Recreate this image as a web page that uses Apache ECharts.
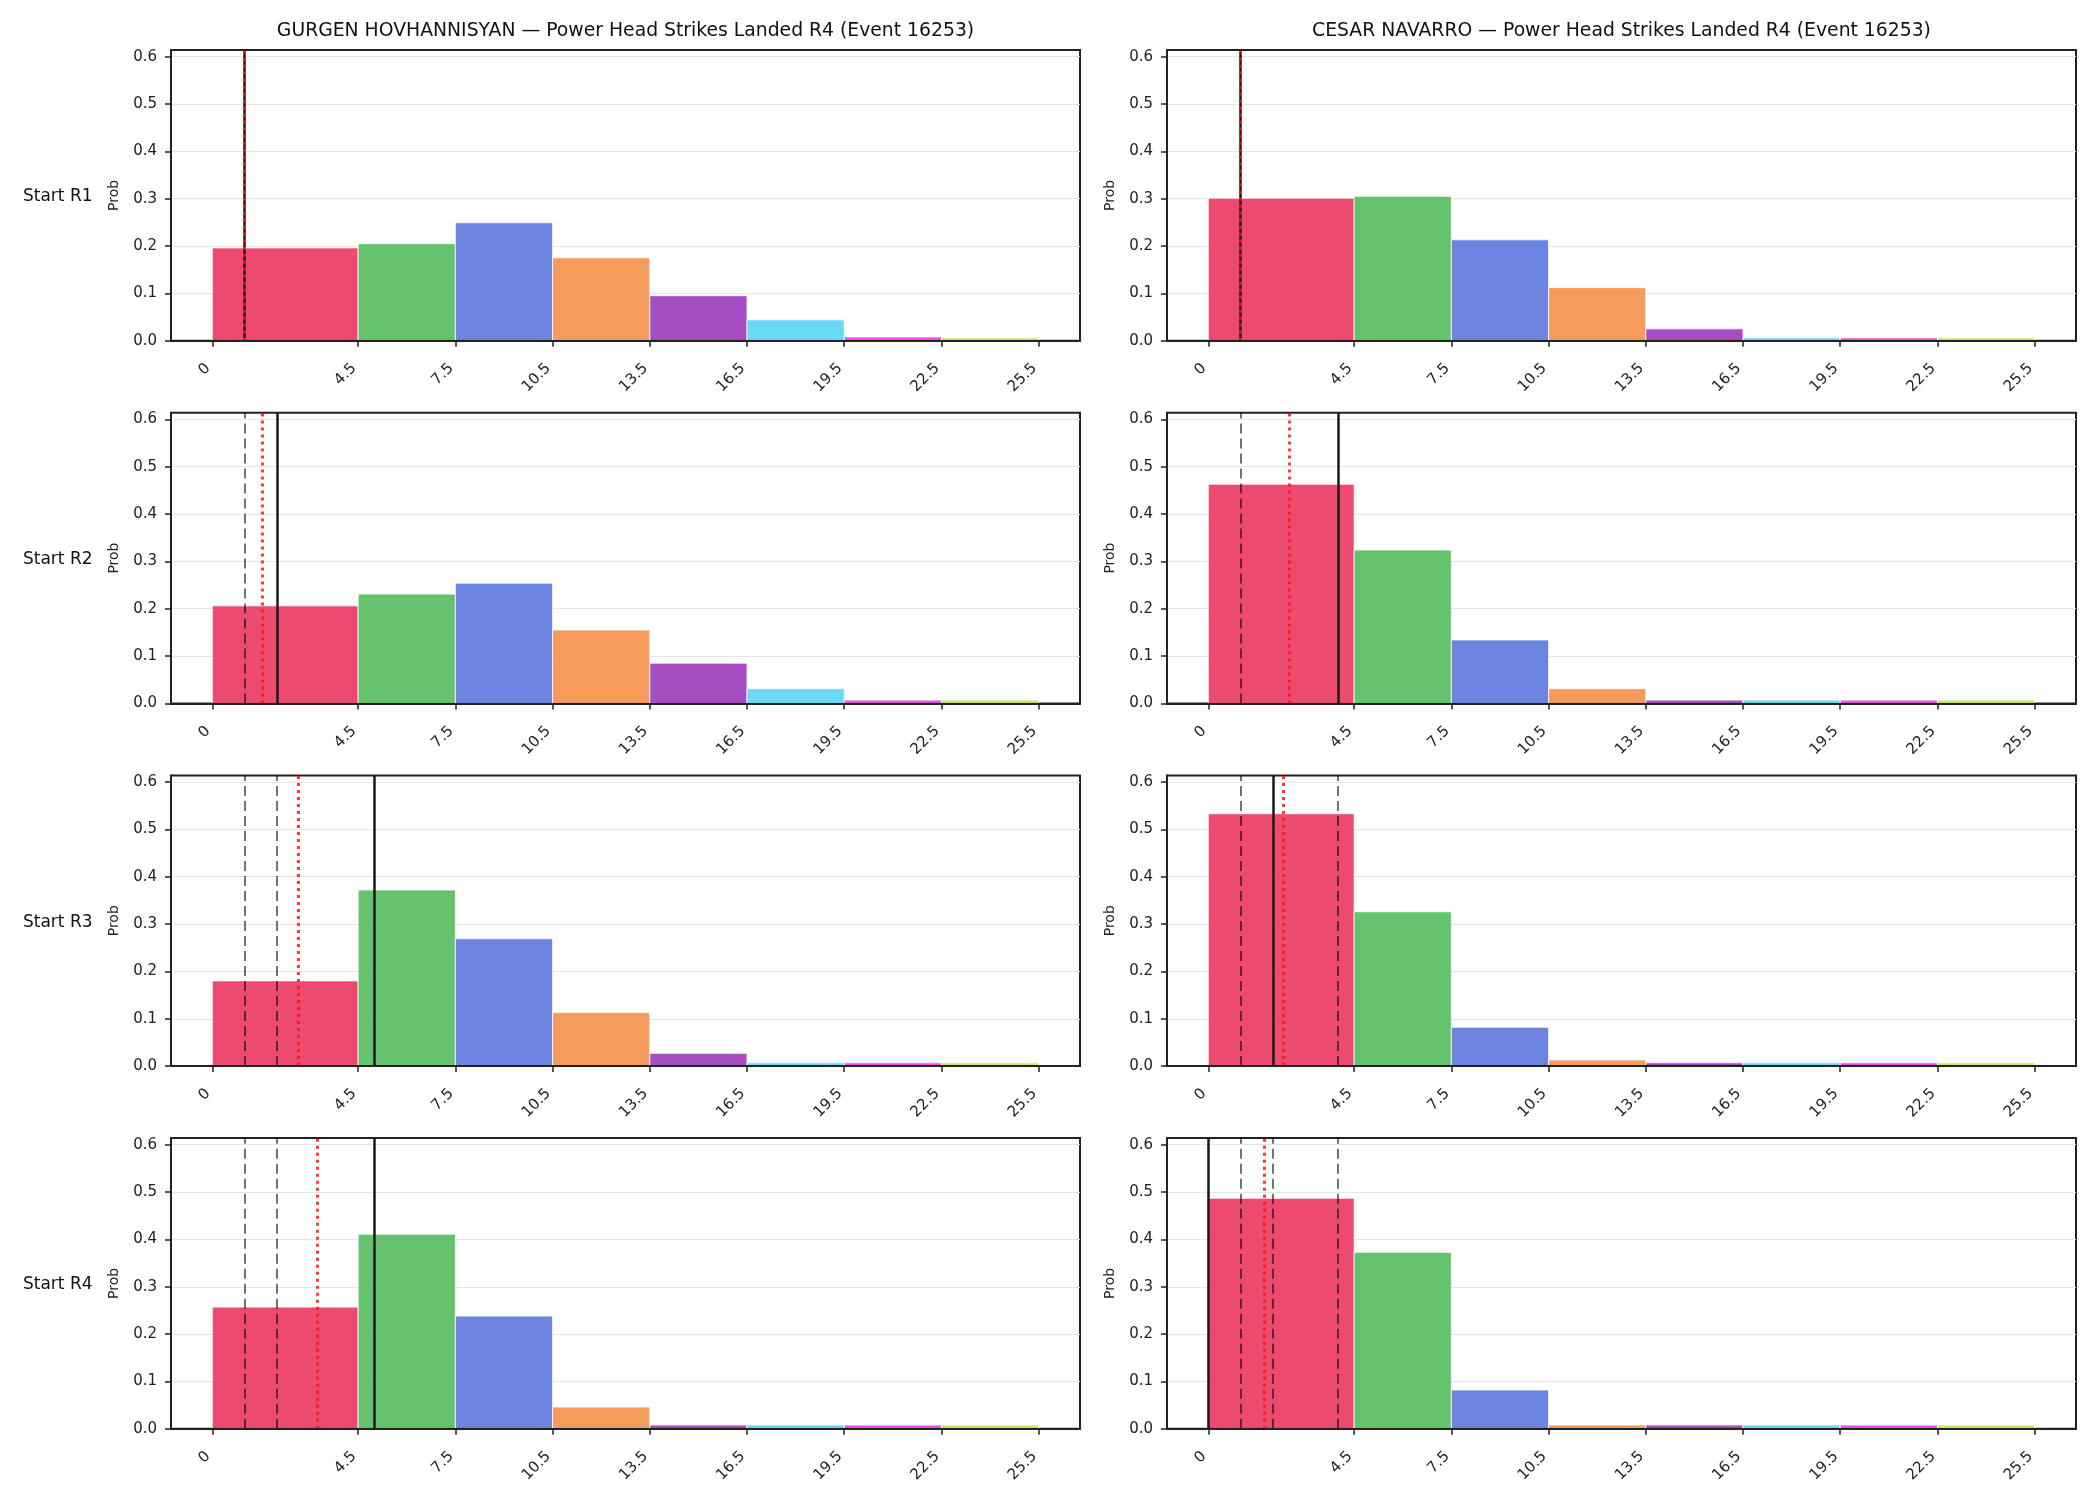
<!DOCTYPE html>
<html>
<head>
<meta charset="utf-8">
<script src="https://cdn.jsdelivr.net/npm/echarts@6/dist/echarts.min.js"></script>
<style>
html, body { margin: 0; padding: 0; background: #fff; }
#main { width: 2100px; height: 1500px; }
</style>
</head>
<body>
<div id="main"></div>
<script>
const fighters = ['GURGEN HOVHANNISYAN', 'CESAR NAVARRO'];
const rowLabels = ['Start R1', 'Start R2', 'Start R3', 'Start R4'];
const binEdges = [0, 4.5, 7.5, 10.5, 13.5, 16.5, 19.5, 22.5, 25.5];
const yTicks = [0, 0.1, 0.2, 0.3, 0.4, 0.5, 0.6];
const binColors = ['#E92A56', '#4BB854', '#526ED9', '#F38A3F', '#962EB6', '#4DD4F4', '#EB31E4', '#BEE93F'];

// probability per bin, one row per start round
const probGurgen = [
    [0.196, 0.205, 0.249, 0.175, 0.095, 0.044, 0.008, 0.006],
    [0.206, 0.231, 0.254, 0.155, 0.085, 0.031, 0.007, 0.007],
    [0.180, 0.372, 0.269, 0.113, 0.027, 0.007, 0.007, 0.007],
    [0.257, 0.411, 0.238, 0.046, 0.008, 0.008, 0.008, 0.008]
];
const probCesar = [
    [0.301, 0.305, 0.213, 0.112, 0.025, 0.006, 0.006, 0.006],
    [0.463, 0.324, 0.134, 0.031, 0.007, 0.007, 0.007, 0.007],
    [0.533, 0.326, 0.082, 0.013, 0.007, 0.007, 0.007, 0.007],
    [0.487, 0.373, 0.082, 0.008, 0.008, 0.008, 0.008, 0.008]
];

// vertical markers
const actualGurgen = [1, 2, 5, 5];
const actualCesar = [1, 4, 2, 0];
const prevGurgen = [[], [1], [1, 2], [1, 2]];
const prevCesar = [[], [1], [1, 4], [1, 2, 4]];
const meanGurgen = [1, 1.53, 2.65, 3.25];
const meanCesar = [1, 2.5, 2.3, 1.72];

const probs = [probGurgen, probCesar];
const actuals = [actualGurgen, actualCesar];
const prevs = [prevGurgen, prevCesar];
const means = [meanGurgen, meanCesar];

const colLeft = [171, 1167];
const gridW = 909;
const rowTop0 = 50;
const rowStep = 362.7;
const gridH = 290.7;
const font = 'DejaVu Sans';

let chart = echarts.init(document.getElementById('main'));

let grids = [], xAxes = [], yAxes = [], series = [], titles = [];

fighters.forEach((name, c) => {
    titles.push({
        text: name + ' — Power Head Strikes Landed R4 (Event 16253)',
        left: colLeft[c] + gridW / 2,
        top: 22,
        padding: 0,
        textAlign: 'center',
        textStyle: { fontFamily: font, fontSize: 18.8, fontWeight: 'normal', color: '#111' }
    });
});
rowLabels.forEach((lab, r) => {
    titles.push({
        text: lab,
        left: 23,
        top: rowTop0 + r * rowStep + gridH / 2 - 7,
        padding: 0,
        textStyle: { fontFamily: font, fontSize: 17, fontWeight: 'normal', color: '#111' }
    });
});

for (let r = 0; r < 4; r++) {
    for (let c = 0; c < 2; c++) {
        let idx = grids.length;
        grids.push({
            left: colLeft[c],
            top: rowTop0 + r * rowStep,
            width: gridW,
            height: gridH,
            show: true,
            borderColor: '#222',
            borderWidth: 2,
            backgroundColor: 'transparent'
        });
        xAxes.push({
            type: 'value',
            gridIndex: idx,
            min: -1.275,
            max: 26.775,
            z: 10,
            splitLine: { show: false },
            axisLine: { show: true, onZero: false, lineStyle: { color: '#222', width: 2 } },
            axisTick: { show: true, length: 6, customValues: binEdges, lineStyle: { color: '#222', width: 1.5 } },
            axisLabel: {
                customValues: binEdges,
                rotate: 45,
                margin: 21,
                padding: [0, 6, 0, 0],
                fontFamily: font,
                fontSize: 15,
                color: '#222',
                formatter: v => String(v)
            }
        });
        yAxes.push({
            type: 'value',
            gridIndex: idx,
            min: 0,
            max: 0.614,
            name: 'Prob',
            nameLocation: 'middle',
            nameGap: 50,
            nameTextStyle: { fontFamily: font, fontSize: 14, color: '#222' },
            axisLine: { show: true, onZero: false, lineStyle: { color: '#222', width: 2 } },
            axisTick: { show: true, length: 6, customValues: yTicks, lineStyle: { color: '#222', width: 1.5 } },
            axisLabel: {
                customValues: yTicks,
                margin: 14,
                fontFamily: font,
                fontSize: 15,
                color: '#222',
                formatter: v => v.toFixed(1)
            },
            splitLine: { show: true, lineStyle: { color: '#e6e6e6', width: 1 } }
        });

        let bars = probs[c][r].map((p, i) => [binEdges[i], binEdges[i + 1], p, i]);
        series.push({
            type: 'custom',
            xAxisIndex: idx,
            yAxisIndex: idx,
            z: 2,
            silent: true,
            data: bars,
            encode: { x: [0, 1], y: 2 },
            renderItem: (params, api) => {
                let a = api.coord([api.value(0), api.value(2)]);
                let b = api.coord([api.value(1), 0]);
                return {
                    type: 'rect',
                    shape: { x: a[0], y: a[1], width: b[0] - a[0], height: b[1] - a[1] },
                    style: { fill: binColors[api.value(3)], fillOpacity: 0.85, stroke: '#fff', lineWidth: 0.8 }
                };
            }
        });

        const markSeries = (vals, style, z) => ({
            type: 'line',
            xAxisIndex: idx,
            yAxisIndex: idx,
            z: z,
            data: [],
            markLine: {
                silent: true,
                animation: false,
                symbol: ['none', 'none'],
                label: { show: false },
                emphasis: { disabled: true },
                lineStyle: style,
                data: vals.map(v => ({ xAxis: v }))
            }
        });
        series.push(markSeries([actuals[c][r]], { color: '#1a1a1a', width: 2.5, type: 'solid' }, 3));
        series.push(markSeries(prevs[c][r], { color: 'rgba(0,0,0,0.55)', width: 2, type: [10, 5] }, 4));
        series.push(markSeries([means[c][r]], { color: 'rgba(255,20,20,0.85)', width: 3, type: [3, 4] }, 5));
    }
}

chart.setOption({
    animation: false,
    backgroundColor: '#fff',
    title: titles,
    grid: grids,
    xAxis: xAxes,
    yAxis: yAxes,
    series: series
});
</script>
</body>
</html>
